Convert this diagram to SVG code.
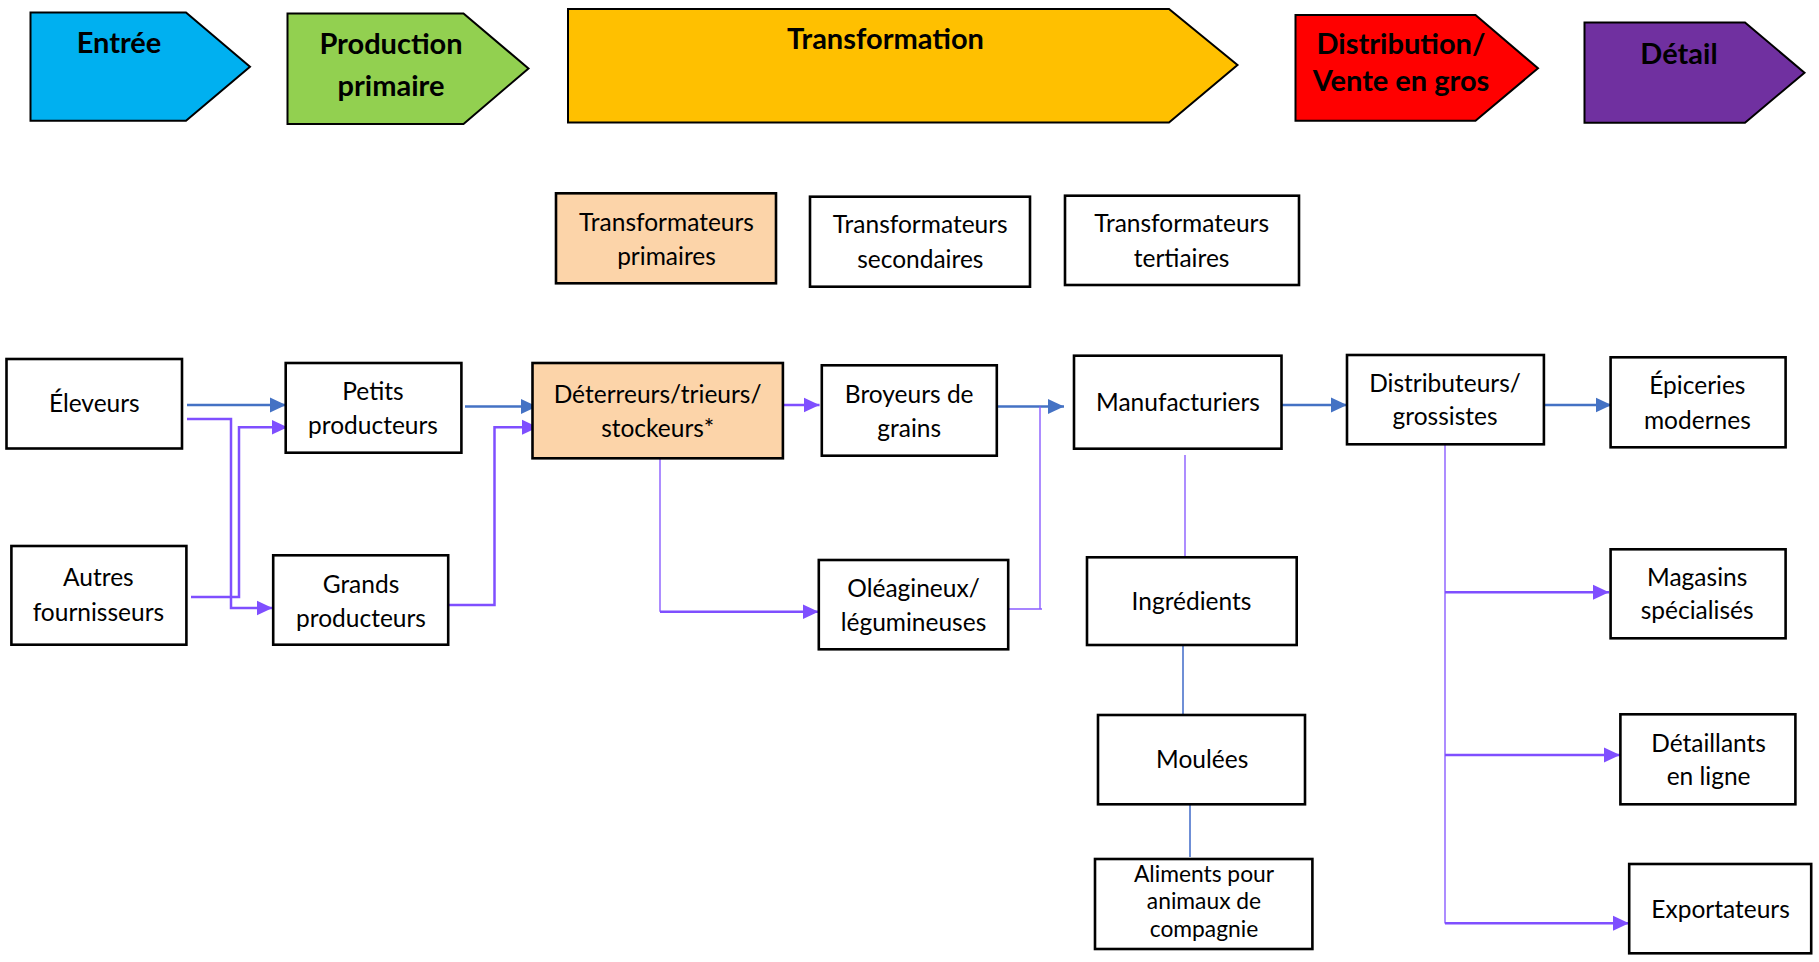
<svg xmlns="http://www.w3.org/2000/svg" width="1819" height="962" viewBox="0 0 1819 962">
<style>
.hdr{stroke:#000;stroke-width:2}
.ht{font-family:Lato,"Liberation Sans",sans-serif;font-weight:bold;font-size:29px;fill:#000;text-anchor:middle}
.box{fill:#fff;stroke:#000;stroke-width:2.6}
.pe{fill:#FCD4A9}
.t{font-family:Lato,"Liberation Sans",sans-serif;font-size:24.5px;fill:#000;text-anchor:middle}
.ts{font-size:22.8px}
.b{fill:none;stroke:#4472C4;stroke-width:2.5}
.p{fill:none;stroke:#7F4FFF;stroke-width:2.5}
.pt{fill:none;stroke:#8A5CFF;stroke-width:1.4}
.bt{fill:none;stroke:#6F8FD6;stroke-width:2}
</style>
<defs>
<marker id="ab" markerUnits="userSpaceOnUse" markerWidth="16" markerHeight="16" viewBox="0 0 16 16" refX="16" refY="8" orient="auto"><path d="M0,0.5 L16,8 L0,15.5 Z" fill="#4472C4"/></marker>
<marker id="ap" markerUnits="userSpaceOnUse" markerWidth="16" markerHeight="16" viewBox="0 0 16 16" refX="16" refY="8" orient="auto"><path d="M0,0.5 L16,8 L0,15.5 Z" fill="#7F4FFF"/></marker>
</defs>
<rect width="1819" height="962" fill="#fff"/>

<g id="h-entree"><path class="hdr" fill="#00B0F0" d="M30.5,12.5 H186 L250,66.7 L186,120.7 H30.5 Z"/><text class="ht" x="119" y="53">Entrée</text></g>
<g id="h-production"><path class="hdr" fill="#92D050" d="M287.5,13.5 H463.5 L528.5,68.5 L463.5,124 H287.5 Z"/><text class="ht" x="391" y="54">Production</text><text class="ht" x="391" y="96">primaire</text></g>
<g id="h-transformation"><path class="hdr" fill="#FFC000" d="M568,9 H1169 L1237.5,65 L1169,122.5 H568 Z"/><text class="ht" x="885.5" y="49">Transformation</text></g>
<g id="h-distribution"><path class="hdr" fill="#FF0000" d="M1295.5,15 H1475.5 L1538,68.3 L1475.5,120.7 H1295.5 Z"/><text class="ht" x="1401" y="53.5">Distribution/</text><text class="ht" x="1401" y="91">Vente en gros</text></g>
<g id="h-detail"><path class="hdr" fill="#7030A0" d="M1584.5,22.5 H1745 L1804.5,72.7 L1745,122.7 H1584.5 Z"/><text class="ht" x="1679" y="63.5">Détail</text></g>

<g id="connectors">
<path class="b" d="M187,405 H286" marker-end="url(#ab)"/>
<path class="p" d="M187,419 H231 V608 H272.5" marker-end="url(#ap)"/>
<path class="p" d="M191,597 H239 V427.3 H287.5" marker-end="url(#ap)"/>
<path class="b" d="M465,406.5 H537" marker-end="url(#ab)"/>
<path class="p" d="M448,605 H494.5 V427.3 H538" marker-end="url(#ap)"/>
<path class="p" d="M783,405 H819.5" marker-end="url(#ap)"/>
<path class="pt" d="M660,458.5 V611.7"/>
<path class="p" d="M660,611.7 H818.5" marker-end="url(#ap)"/>
<path class="b" d="M993,406.5 H1064" marker-end="url(#ab)"/>
<path class="pt" d="M1006,609 H1042 M1040,609 V406.5"/>
<path class="b" d="M1275,405 H1347" marker-end="url(#ab)"/>
<path class="b" d="M1532,405 H1611.5" marker-end="url(#ab)"/>
<path class="pt" d="M1185,455 V557"/>
<path class="bt" d="M1183,645 V715"/>
<path class="bt" d="M1190,804 V857"/>
<path class="pt" d="M1445,444 V923.5"/>
<path class="p" d="M1445,592.3 H1609" marker-end="url(#ap)"/>
<path class="p" d="M1445,755 H1620" marker-end="url(#ap)"/>
<path class="p" d="M1445,923.3 H1629" marker-end="url(#ap)"/>
</g>

<g id="n-tp"><rect class="box pe" x="556" y="193.3" width="220" height="90"/><text class="t" x="666.5" y="230.7">Transformateurs</text><text class="t" x="666.5" y="265">primaires</text></g>
<g id="n-ts"><rect class="box" x="810" y="196.7" width="220" height="90"/><text class="t" x="920.3" y="233.3">Transformateurs</text><text class="t" x="920.3" y="267.7">secondaires</text></g>
<g id="n-tt"><rect class="box" x="1065" y="195.7" width="234" height="89.3"/><text class="t" x="1181.6" y="231.7">Transformateurs</text><text class="t" x="1181.6" y="266.7">tertiaires</text></g>

<g id="n-eleveurs"><rect class="box" x="6.5" y="359" width="175.5" height="89.5"/><text class="t" x="94.3" y="412.3">Éleveurs</text></g>
<g id="n-petits"><rect class="box" x="285.7" y="363" width="175.7" height="89.7"/><text class="t" x="373" y="400">Petits</text><text class="t" x="373" y="434">producteurs</text></g>
<g id="n-autres"><rect class="box" x="11.4" y="546" width="175" height="98.7"/><text class="t" x="98.4" y="586">Autres</text><text class="t" x="98.4" y="621">fournisseurs</text></g>
<g id="n-grands"><rect class="box" x="273.2" y="555.3" width="175" height="89.4"/><text class="t" x="361" y="592.7">Grands</text><text class="t" x="361" y="626.7">producteurs</text></g>
<g id="n-deterreurs"><rect class="box pe" x="532.5" y="363" width="250.4" height="95.3"/><text class="t" x="657.6" y="402.7">Déterreurs/trieurs/</text><text class="t" x="657.6" y="436.7">stockeurs*</text></g>
<g id="n-broyeurs"><rect class="box" x="821.8" y="365.3" width="175" height="90.4"/><text class="t" x="909.2" y="403.3">Broyeurs de</text><text class="t" x="909.2" y="436.7">grains</text></g>
<g id="n-oleagineux"><rect class="box" x="818.8" y="560" width="189.4" height="89.3"/><text class="t" x="913.5" y="596.7">Oléagineux/</text><text class="t" x="913.5" y="630.7">légumineuses</text></g>
<g id="n-manufacturiers"><rect class="box" x="1074" y="355.7" width="207.5" height="93"/><text class="t" x="1178" y="411">Manufacturiers</text></g>
<g id="n-ingredients"><rect class="box" x="1087" y="557.3" width="209.7" height="87.7"/><text class="t" x="1191.5" y="610">Ingrédients</text></g>
<g id="n-moulees"><rect class="box" x="1098" y="715" width="207" height="89.3"/><text class="t" x="1202.2" y="768.3">Moulées</text></g>
<g id="n-aliments"><rect class="box" x="1095" y="859" width="217.4" height="90"/><text class="t ts" x="1204" y="881.5">Aliments pour</text><text class="t ts" x="1204" y="909">animaux de</text><text class="t ts" x="1204" y="936.5">compagnie</text></g>
<g id="n-distributeurs"><rect class="box" x="1347" y="355" width="196.9" height="89.3"/><text class="t" x="1445" y="391.7">Distributeurs/</text><text class="t" x="1445" y="425">grossistes</text></g>
<g id="n-epiceries"><rect class="box" x="1610.6" y="357.3" width="175" height="90"/><text class="t" x="1697.4" y="394">Épiceries</text><text class="t" x="1697.4" y="429">modernes</text></g>
<g id="n-magasins"><rect class="box" x="1610.6" y="549.3" width="175" height="89"/><text class="t" x="1697.2" y="585.7">Magasins</text><text class="t" x="1697.2" y="619.3">spécialisés</text></g>
<g id="n-detaillants"><rect class="box" x="1620.4" y="714.3" width="175" height="90"/><text class="t" x="1708.6" y="751.7">Détaillants</text><text class="t" x="1708.6" y="785">en ligne</text></g>
<g id="n-exportateurs"><rect class="box" x="1629.2" y="864" width="182" height="89.3"/><text class="t" x="1720.6" y="917.7">Exportateurs</text></g>
</svg>
